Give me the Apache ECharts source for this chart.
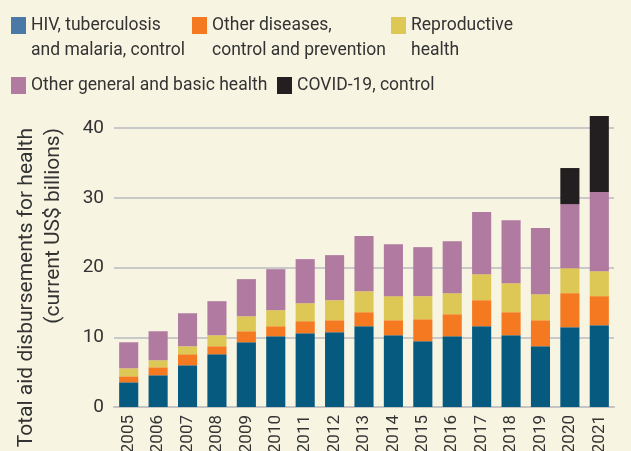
<!DOCTYPE html>
<html>
<head>
<meta charset="UTF-8">
<title>Aid disbursements for health</title>
<script src="https://cdn.jsdelivr.net/npm/echarts@6/dist/echarts.min.js"></script>
<style>
  html, body { margin: 0; padding: 0; background: #f8f4e2; }
  #main { width: 631px; height: 451px; }
</style>
</head>
<body>
<div id="main"></div>
<script>
var years = ['2005', '2006', '2007', '2008', '2009', '2010', '2011', '2012', '2013',
             '2014', '2015', '2016', '2017', '2018', '2019', '2020', '2021'];
// US$ billions
var hivTbMalaria = [3.54, 4.55, 5.98, 7.56, 9.28, 10.14, 10.57, 10.72, 11.58,
                    10.29, 9.43, 10.14, 11.58, 10.29, 8.71, 11.44, 11.72];
var otherDiseases = [0.86, 1.14, 1.58, 1.15, 1.58, 1.44, 1.73, 1.72, 2.01,
                     2.15, 3.15, 3.16, 3.73, 3.30, 3.73, 4.88, 4.17];
var reproductive = [1.15, 1.01, 1.15, 1.58, 2.15, 2.30, 2.58, 2.87, 3.01,
                    3.45, 3.31, 3.02, 3.73, 4.16, 3.73, 3.58, 3.58];
var generalBasic = [3.73, 4.16, 4.73, 4.88, 5.32, 5.88, 6.32, 6.46, 7.90,
                    7.46, 7.03, 7.46, 8.90, 9.04, 9.48, 9.19, 11.34];
var covid = [0, 0, 0, 0, 0, 0, 0, 0, 0, 0, 0, 0, 0, 0, 0, 5.17, 10.91];
var yTicks = [0, 10, 20, 30, 40];

var font = 'Roboto, sans-serif';
var textColor = '#333333';

var names = ['HIV, tuberculosis\nand malaria, control',
             'Other diseases,\ncontrol and prevention',
             'Reproductive\nhealth',
             'Other general and basic health',
             'COVID-19, control'];
var colors = ['#065a80', '#f47920', '#dec855', '#b07aa1', '#231f20'];
var values = [hivTbMalaria, otherDiseases, reproductive, generalBasic, covid];

// swatch sits beside the first line of a two-line label
var tallIcon = 'path://M0,0H15V17H0Z M0,42H0.01V42.01H0Z';
var legendPos = [[11, 13], [192, 13], [391, 13], [11, 73], [277, 73]];
var legends = names.map(function (n, i) {
  var twoLine = n.indexOf('\n') >= 0;
  return {
    left: legendPos[i][0],
    top: legendPos[i][1],
    padding: 0,
    itemWidth: 15,
    itemHeight: twoLine ? 42 : 17,
    itemGap: 0,
    icon: twoLine ? tallIcon : 'rect',
    selectedMode: false,
    data: [{
      name: n,
      itemStyle: i === 0 ? { color: '#4a79a8' } : undefined
    }],
    textStyle: {
      fontFamily: font,
      fontSize: 17.5,
      color: textColor,
      lineHeight: 25
    }
  };
});

var chart = echarts.init(document.getElementById('main'));
chart.setOption({
  backgroundColor: '#f8f4e2',
  animation: false,
  legend: legends,
  grid: { left: 114, right: 17, top: 128, bottom: 44, outerBoundsMode: 'none' },
  graphic: [{
    type: 'text',
    x: 13,
    y: 128,
    rotation: Math.PI / 2,
    style: {
      text: 'Total aid disbursements for health\n(current US$ billions)',
      font: '21px ' + font,
      fill: textColor,
      align: 'right',
      verticalAlign: 'top',
      lineHeight: 27
    }
  }],
  xAxis: {
    type: 'category',
    data: years,
    axisTick: { show: false },
    axisLine: { lineStyle: { color: '#c4c4c4', width: 2 } },
    axisLabel: {
      rotate: 90,
      interval: 0,
      margin: 8,
      fontFamily: font,
      fontSize: 17,
      color: textColor
    }
  },
  yAxis: {
    type: 'value',
    min: yTicks[0],
    max: yTicks[yTicks.length - 1],
    interval: 10,
    axisLine: { show: false },
    axisTick: { show: false },
    splitLine: { lineStyle: { color: '#c9c9c9', width: 2 } },
    axisLabel: {
      margin: 10,
      fontFamily: font,
      fontSize: 19,
      color: textColor
    }
  },
  series: names.map(function (n, i) {
    return {
      name: n,
      type: 'bar',
      stack: 'total',
      barCategoryGap: '35%',
      clip: false,
      color: colors[i],
      data: values[i]
    };
  })
});
</script>
</body>
</html>
